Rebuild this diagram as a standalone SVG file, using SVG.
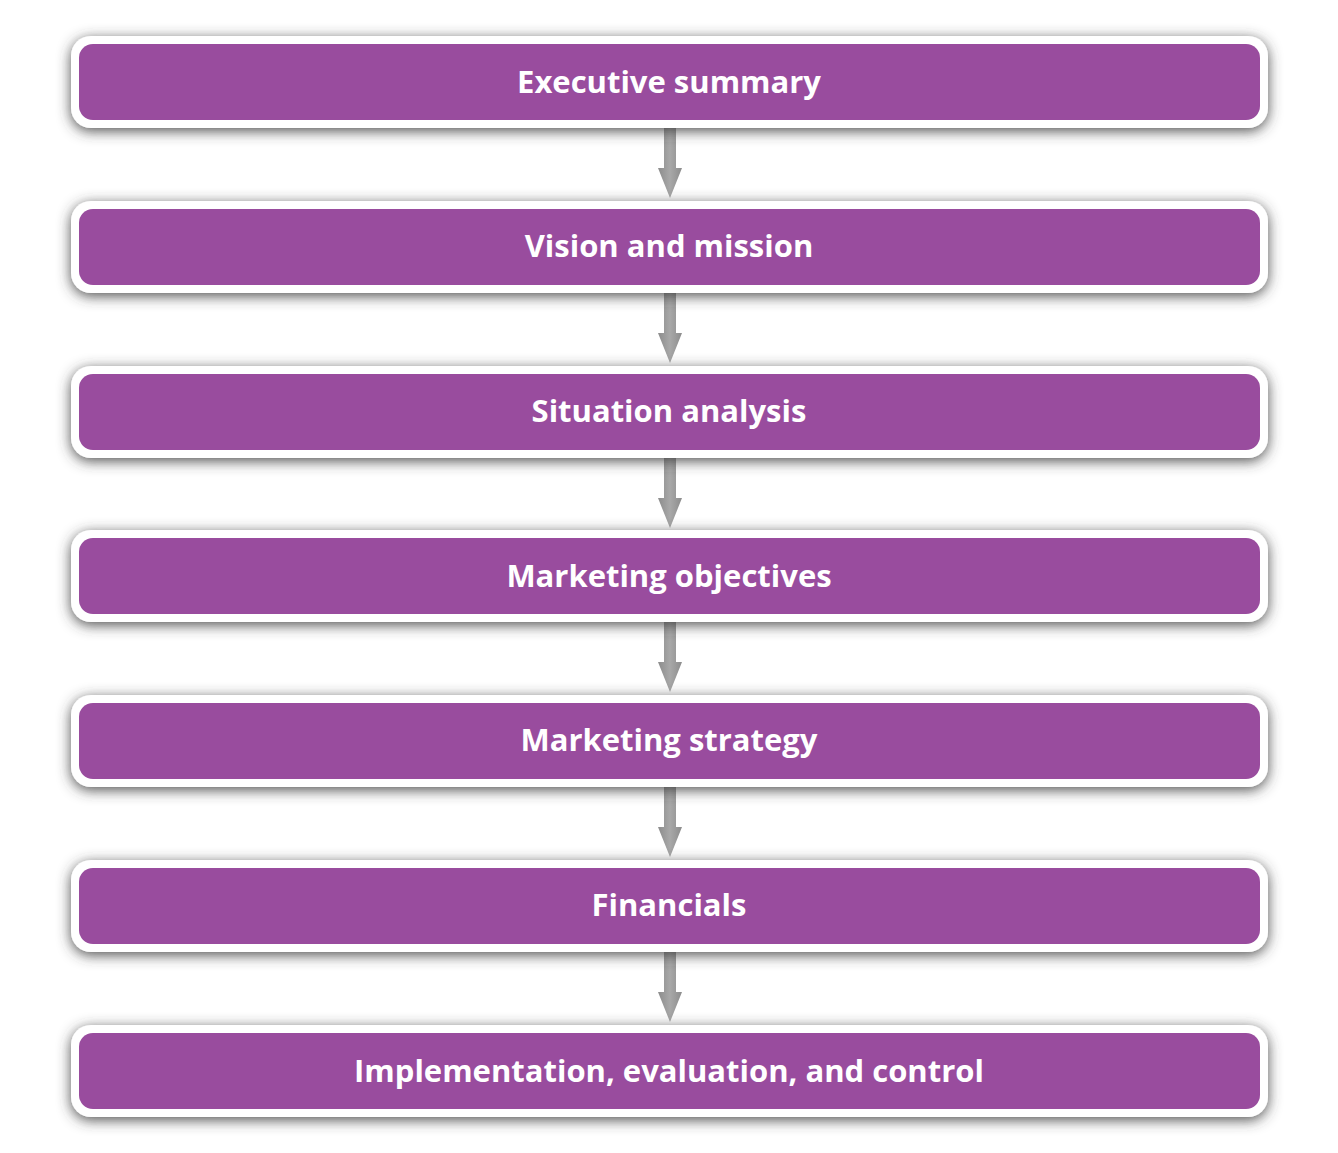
<svg xmlns="http://www.w3.org/2000/svg" width="1338" height="1153" viewBox="0 0 1338 1153">
<defs>
<filter id="sh" x="-5%" y="-50%" width="110%" height="200%">
<feDropShadow dx="0" dy="3" stdDeviation="7" flood-color="#3a3a3a" flood-opacity="0.9"/>
</filter>
<linearGradient id="ag" x1="0" y1="0" x2="1" y2="0">
<stop offset="0" stop-color="#8c8c8c"/>
<stop offset="0.5" stop-color="#a8a8a8"/>
<stop offset="1" stop-color="#8c8c8c"/>
</linearGradient>
</defs>
<style>
.outer{fill:#ffffff;filter:url(#sh);}
.inner{fill:#994c9e;}
.lbl{fill:#ffffff;font-family:"Open Sans","Liberation Sans",sans-serif;font-weight:bold;font-size:31px;text-anchor:middle;}
.arr{fill:url(#ag);}
</style>
<rect width="1338" height="1153" fill="#ffffff"/>
<g id="connectors">
<path class="arr" d="M664,128 H676 V168 H682 L670,198 L658,168 H664 Z"/>
<path class="arr" d="M664,293 H676 V333 H682 L670,363 L658,333 H664 Z"/>
<path class="arr" d="M664,458 H676 V498 H682 L670,528 L658,498 H664 Z"/>
<path class="arr" d="M664,622 H676 V662 H682 L670,692 L658,662 H664 Z"/>
<path class="arr" d="M664,787 H676 V827 H682 L670,857 L658,827 H664 Z"/>
<path class="arr" d="M664,952 H676 V992 H682 L670,1022 L658,992 H664 Z"/>
</g>
<g id="n1"><rect class="outer" x="71" y="36" width="1197" height="92" rx="20"/><rect class="inner" x="79" y="44" width="1181" height="76" rx="14"/><text class="lbl" x="669" y="93">Executive summary</text></g>
<g id="n2"><rect class="outer" x="71" y="201" width="1197" height="92" rx="20"/><rect class="inner" x="79" y="209" width="1181" height="76" rx="14"/><text class="lbl" x="669" y="257">Vision and mission</text></g>
<g id="n3"><rect class="outer" x="71" y="366" width="1197" height="92" rx="20"/><rect class="inner" x="79" y="374" width="1181" height="76" rx="14"/><text class="lbl" x="669" y="422">Situation analysis</text></g>
<g id="n4"><rect class="outer" x="71" y="530" width="1197" height="92" rx="20"/><rect class="inner" x="79" y="538" width="1181" height="76" rx="14"/><text class="lbl" x="669" y="587">Marketing objectives</text></g>
<g id="n5"><rect class="outer" x="71" y="695" width="1197" height="92" rx="20"/><rect class="inner" x="79" y="703" width="1181" height="76" rx="14"/><text class="lbl" x="669" y="751">Marketing strategy</text></g>
<g id="n6"><rect class="outer" x="71" y="860" width="1197" height="92" rx="20"/><rect class="inner" x="79" y="868" width="1181" height="76" rx="14"/><text class="lbl" x="669" y="916">Financials</text></g>
<g id="n7"><rect class="outer" x="71" y="1025" width="1197" height="92" rx="20"/><rect class="inner" x="79" y="1033" width="1181" height="76" rx="14"/><text class="lbl" x="669" y="1082">Implementation, evaluation, and control</text></g>
</svg>
